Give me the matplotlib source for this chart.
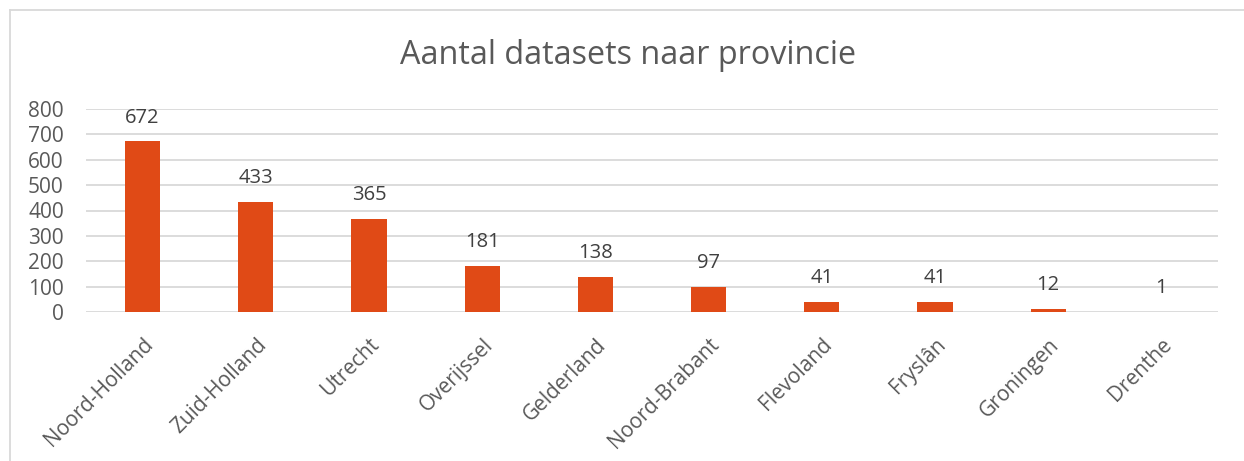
import matplotlib
matplotlib.use("Agg")
import matplotlib.pyplot as plt
from matplotlib.lines import Line2D

provinces = ["Noord-Holland", "Zuid-Holland", "Utrecht", "Overijssel", "Gelderland",
             "Noord-Brabant", "Flevoland", "Fryslân", "Groningen", "Drenthe"]
counts = [672, 433, 365, 181, 138, 97, 41, 41, 12, 1]
yticks = [0, 100, 200, 300, 400, 500, 600, 700, 800]

plt.rcParams['font.family'] = ['Open Sans', 'DejaVu Sans']
txt = '#595959'
bar_color = '#E04A16'
grid = '#D9D9D9'

fig = plt.figure(figsize=(12.44, 4.61), dpi=100)
ax = fig.add_axes([86 / 1244, 1 - 312 / 461, (1218 - 86) / 1244, (312 - 109) / 461])

x = range(len(provinces))
bars = ax.bar(x, counts, width=0.31, color=bar_color, zorder=3)

for xi, v in zip(x, counts):
    ax.annotate(str(v), (xi, v), xytext=(0, 10), textcoords='offset points',
                ha='center', va='bottom', fontsize=14.5, color='#404040')

ax.set_xlim(-0.5, len(provinces) - 0.5)
ax.set_ylim(0, 800)
ax.set_yticks(yticks)
ax.set_yticklabels([str(t) for t in yticks], fontsize=15, color=txt)
ax.set_xticks(list(x))
ax.set_xticklabels(provinces, rotation=45, ha='right', rotation_mode='anchor',
                   fontsize=15, color=txt)
ax.tick_params(axis='both', length=0)
ax.tick_params(axis='y', pad=16)
ax.tick_params(axis='x', pad=16)
ax.grid(axis='y', color=grid, linewidth=1.3, zorder=0)
for s in ax.spines.values():
    s.set_visible(False)

fig.text(628 / 1244, 1 - 56 / 461, 'Aantal datasets naar provincie', ha='center',
         va='center', fontsize=23.3, color=txt)

# chart frame (left and top edges visible in the crop)
fig.add_artist(Line2D([10 / 1244, 10 / 1244], [0, 1 - 10 / 461], color=grid, linewidth=1.3,
                      transform=fig.transFigure))
fig.add_artist(Line2D([10 / 1244, 1], [1 - 10 / 461, 1 - 10 / 461], color=grid, linewidth=1.3,
                      transform=fig.transFigure))

fig.savefig('out.png', dpi=100)
